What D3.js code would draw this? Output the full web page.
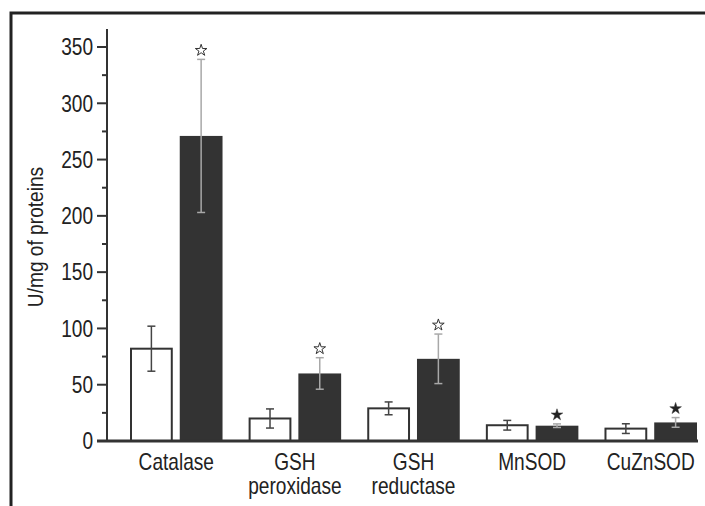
<!DOCTYPE html>
<html>
<head>
<meta charset="utf-8">
<script src="https://cdn.jsdelivr.net/npm/d3@7"></script>
<style>
  body { margin: 0; background: #fff; }
  svg text { font-family: "Liberation Sans Narrow", "Arial Narrow", "Liberation Sans", sans-serif; fill: #222; }
</style>
</head>
<body>
<div id="chart"></div>
<script>
// enzyme groups
var categories = ["Catalase", "GSH\nperoxidase", "GSH\nreductase", "MnSOD", "CuZnSOD"];
var series = ["control", "treated"];

// mean values
var controlValues = [82, 20, 29, 14, 11];
var treatedValues = [271, 60, 73, 13.6, 16.5];

// +/- error
var controlErrors = [20, 8.5, 5.7, 4.3, 4.3];
var treatedErrors = [68, 14, 22, 1.6, 4.3];

// significance marks on treated bars
var marks = ["open", "open", "open", "filled", "filled"];

var yTicks = [0, 50, 100, 150, 200, 250, 300, 350];
var yMinorTicks = [25, 75, 125, 175, 225, 275, 325];

var width = 705, height = 506;
var squeeze = 0.83; // the original type is a condensed face

var svg = d3.select("#chart").append("svg")
    .attr("width", width)
    .attr("height", height);

// frame (top + left)
svg.append("path")
    .attr("d", "M11,506 V13 H705")
    .attr("fill", "none")
    .attr("stroke", "#222")
    .attr("stroke-width", 3);

var y = d3.scaleLinear().domain([0, 350]).range([441, 47]);

var x = d3.scaleBand()
    .domain(categories)
    .range([130, 697])
    .paddingInner(0.22)
    .paddingOuter(0);

var xs = d3.scaleBand()
    .domain(series)
    .range([0, x.bandwidth()])
    .paddingInner(0.14)
    .paddingOuter(0);

var data = [];
categories.forEach(function(c, i) {
    data.push({cat: c, s: "control", v: controlValues[i], e: controlErrors[i], mark: null});
    data.push({cat: c, s: "treated", v: treatedValues[i], e: treatedErrors[i], mark: marks[i]});
});

// bars
svg.append("g")
    .selectAll("rect")
    .data(data)
    .join("rect")
    .attr("x", d => x(d.cat) + xs(d.s) + (d.s == "control" ? 1 : 0))
    .attr("y", d => y(d.v))
    .attr("width", d => xs.bandwidth() - (d.s == "control" ? 2 : 0))
    .attr("height", d => y(0) - y(d.v))
    .attr("fill", d => d.s == "control" ? "#fff" : "#333")
    .attr("stroke", d => d.s == "control" ? "#333" : "none")
    .attr("stroke-width", 2);

// error bars
var eb = svg.append("g")
    .selectAll("g")
    .data(data)
    .join("g")
    .attr("stroke", d => d.s == "control" ? "#444" : "#a8a8a8")
    .attr("stroke-width", 1.5);

var cx = d => x(d.cat) + xs(d.s) + xs.bandwidth() / 2;

eb.append("line")
    .attr("x1", cx).attr("x2", cx)
    .attr("y1", d => y(d.v + d.e))
    .attr("y2", d => y(d.v - d.e));
eb.append("line")
    .attr("x1", d => cx(d) - 4).attr("x2", d => cx(d) + 4)
    .attr("y1", d => y(d.v + d.e)).attr("y2", d => y(d.v + d.e));
eb.append("line")
    .attr("x1", d => cx(d) - 4).attr("x2", d => cx(d) + 4)
    .attr("y1", d => y(d.v - d.e)).attr("y2", d => y(d.v - d.e));

// stars
var star = d3.symbol().type(d3.symbolStar).size(42);
svg.append("g")
    .selectAll("path")
    .data(data.filter(d => d.mark))
    .join("path")
    .attr("d", star)
    .attr("transform", d => "translate(" + cx(d) + "," + (y(d.v + d.e) - 9) + ")")
    .attr("fill", d => d.mark == "filled" ? "#222" : "#fff")
    .attr("stroke", "#333")
    .attr("stroke-width", d => d.mark == "filled" ? 0.5 : 1);

// y axis
var yAxis = svg.append("g")
    .attr("transform", "translate(107,0)");
yAxis.append("line")
    .attr("x1", 0).attr("x2", 0)
    .attr("y1", y(366)).attr("y2", y(0))
    .attr("stroke", "#333").attr("stroke-width", 2);
yAxis.selectAll(".major")
    .data(yTicks)
    .join("line")
    .attr("x1", -10).attr("x2", 0)
    .attr("y1", d => y(d)).attr("y2", d => y(d))
    .attr("stroke", "#333").attr("stroke-width", 2);
yAxis.selectAll(".minor")
    .data(yMinorTicks)
    .join("line")
    .attr("x1", -5).attr("x2", 0)
    .attr("y1", d => y(d)).attr("y2", d => y(d))
    .attr("stroke", "#333").attr("stroke-width", 2);
yAxis.selectAll("text")
    .data(yTicks)
    .join("text")
    .attr("transform", d => "translate(-14," + y(d) + ") scale(" + squeeze + ",1)")
    .attr("dy", "0.36em")
    .attr("text-anchor", "end")
    .style("font-size", "23px")
    .text(d => d);

// x axis baseline
svg.append("line")
    .attr("x1", 97).attr("x2", 698)
    .attr("y1", y(0)).attr("y2", y(0))
    .attr("stroke", "#333").attr("stroke-width", 3);

// category labels
var lbl = svg.append("g")
    .selectAll("text")
    .data(categories)
    .join("text")
    .attr("transform", d => "translate(" + (x(d) + x.bandwidth() / 2) + ",470) scale(" + squeeze + ",1)")
    .attr("text-anchor", "middle")
    .style("font-size", "23px");
lbl.selectAll("tspan")
    .data(d => d.split("\n"))
    .join("tspan")
    .attr("x", 0)
    .attr("dy", (d, i) => i ? 24 : 0)
    .text(d => d);

// y title
svg.append("text")
    .attr("transform", "translate(43,237) rotate(-90) scale(0.87,1)")
    .attr("text-anchor", "middle")
    .style("font-size", "22px")
    .text("U/mg of proteins");
</script>
</body>
</html>
